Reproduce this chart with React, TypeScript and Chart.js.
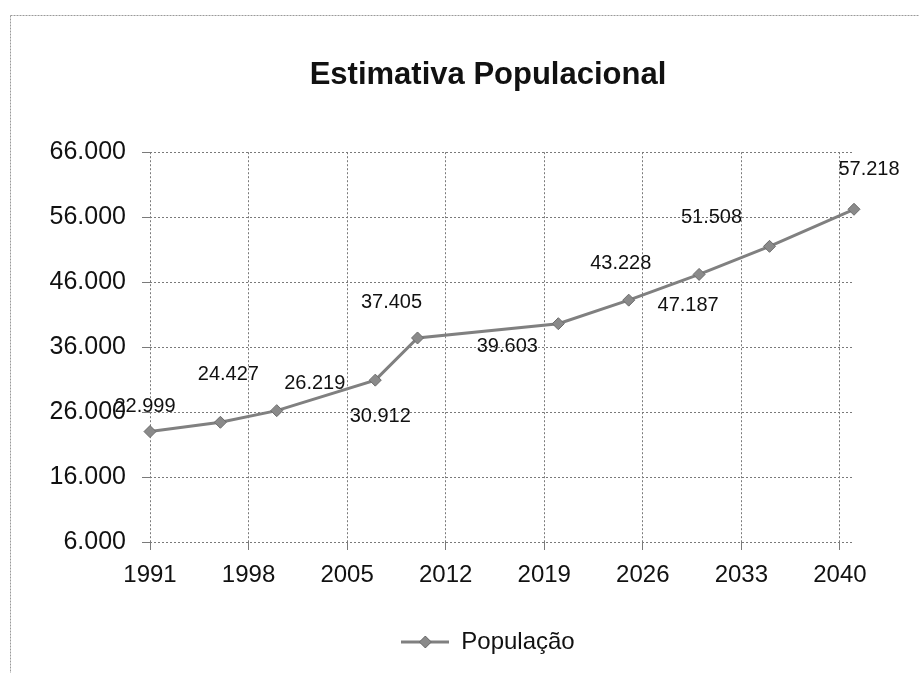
import React, { useEffect, useRef } from "react";
import { Chart, registerables } from "chart.js";

Chart.register(...registerables);

// ---- data ----
const chartTitle = "Estimativa Populacional";
const seriesName = "População";
const years = [1991, 1996, 2000, 2007, 2010, 2020, 2025, 2030, 2035, 2041];
const population = [22999, 24427, 26219, 30912, 37405, 39603, 43228, 47187, 51508, 57218];
const xTickYears = [1991, 1998, 2005, 2012, 2019, 2026, 2033, 2040];
const yTickValues = [6000, 16000, 26000, 36000, 46000, 56000, 66000];

// ---- label placement (style) ----
const labelOffsets: [number, number][] = [
  [-5, -25],
  [8, -48],
  [38, -27],
  [5, 36],
  [-26, -35],
  [-51, 23],
  [-8, -37],
  [-11, 31],
  [-58, -29],
  [15, -40],
];

const FONT = "'Liberation Sans', Arial, Helvetica, sans-serif";
const TEXT = "#111111";
const LINE = "#808080";
const GRID = "#7a7a7a";

function fmt(v: number): string {
  return Math.round(v)
    .toString()
    .replace(/\B(?=(\d{3})+(?!\d))/g, ".");
}

export default function App() {
  const ref = useRef<HTMLCanvasElement | null>(null);

  useEffect(() => {
    if (!ref.current) return;

    const marker = document.createElement("canvas");
    marker.width = 48;
    marker.height = 16;
    const mctx = marker.getContext("2d")!;
    mctx.strokeStyle = LINE;
    mctx.lineWidth = 3;
    mctx.beginPath();
    mctx.moveTo(0, 8);
    mctx.lineTo(48, 8);
    mctx.stroke();
    mctx.fillStyle = "#8a8a8a";
    mctx.strokeStyle = "#6c6c6c";
    mctx.lineWidth = 1;
    mctx.beginPath();
    mctx.moveTo(24, 2);
    mctx.lineTo(30, 8);
    mctx.lineTo(24, 14);
    mctx.lineTo(18, 8);
    mctx.closePath();
    mctx.fill();
    mctx.stroke();

    const framePlugin = {
      id: "frame",
      beforeDraw(chart: any) {
        const ctx = chart.ctx;
        ctx.save();
        ctx.fillStyle = "#ffffff";
        ctx.fillRect(0, 0, chart.width, chart.height);
        ctx.strokeStyle = "#9a9a9a";
        ctx.lineWidth = 1;
        ctx.setLineDash([2, 1]);
        ctx.beginPath();
        ctx.moveTo(10.5, 15.5);
        ctx.lineTo(chart.width, 15.5);
        ctx.moveTo(10.5, 15.5);
        ctx.lineTo(10.5, chart.height);
        ctx.stroke();
        ctx.restore();
      },
    };

    const labelPlugin = {
      id: "pointLabels",
      afterDatasetsDraw(chart: any) {
        const ctx = chart.ctx;
        const meta = chart.getDatasetMeta(0);
        ctx.save();
        ctx.font = `20px ${FONT}`;
        ctx.fillStyle = TEXT;
        ctx.textAlign = "center";
        ctx.textBaseline = "middle";
        meta.data.forEach((pt: any, i: number) => {
          const [dx, dy] = labelOffsets[i] || [0, -20];
          ctx.fillText(fmt(population[i]), pt.x + dx, pt.y + dy);
        });
        ctx.restore();
      },
    };

    const chart = new Chart(ref.current, {
      type: "line",
      data: {
        datasets: [
          {
            label: seriesName,
            data: years.map((y, i) => ({ x: y, y: population[i] })),
            borderColor: LINE,
            borderWidth: 3,
            backgroundColor: "#8a8a8a",
            pointStyle: "rectRot",
            pointRadius: 6,
            pointBackgroundColor: "#8a8a8a",
            pointBorderColor: "#6c6c6c",
            pointBorderWidth: 1,
            tension: 0,
            clip: false,
          },
        ],
      },
      options: {
        responsive: false,
        animation: false,
        devicePixelRatio: 1,
        layout: { padding: { left: 10, right: 10, top: 15, bottom: 9 } },
        scales: {
          x: {
            type: "linear",
            min: 1991,
            max: 2041,
            afterBuildTicks: (s: any) => {
              s.ticks = xTickYears.map((v) => ({ value: v }));
            },
            afterFit: (s: any) => {
              s.height = 78;
            },
            ticks: {
              callback: (v: any) => String(v),
              font: { family: FONT, size: 24 },
              color: TEXT,
              padding: 11,
              maxRotation: 0,
            },
            grid: { color: GRID, lineWidth: 1, tickLength: 8, drawTicks: true },
            border: { display: false, dash: [2, 2] },
          },
          y: {
            type: "linear",
            min: 6000,
            max: 66000,
            afterBuildTicks: (s: any) => {
              s.ticks = yTickValues.map((v) => ({ value: v }));
            },
            afterFit: (s: any) => {
              s.width = 140;
            },
            ticks: {
              callback: (v: any) => fmt(Number(v)),
              font: { family: FONT, size: 25 },
              color: TEXT,
              padding: 16,
            },
            grid: { color: GRID, lineWidth: 1, tickLength: 8, drawTicks: true },
            border: { display: false, dash: [2, 2] },
          },
          yRight: {
            type: "linear",
            position: "right",
            display: true,
            afterFit: (s: any) => {
              s.width = 112;
            },
            ticks: { display: false },
            grid: { display: false },
            border: { display: false },
          },
        },
        plugins: {
          title: {
            display: true,
            text: chartTitle,
            color: TEXT,
            font: { family: FONT, size: 31, weight: "bold" },
            padding: { top: 42, bottom: 58 },
          },
          legend: {
            display: true,
            position: "bottom",
            labels: {
              usePointStyle: true,
              pointStyle: marker as any,
              pointStyleWidth: 48,
              color: TEXT,
              font: { family: FONT, size: 24 },
              padding: 10,
            },
          },
          tooltip: { enabled: false },
        },
      },
      plugins: [framePlugin, labelPlugin],
    } as any);

    return () => chart.destroy();
  }, []);

  return (
    <div
      style={{
        position: "fixed",
        left: 0,
        top: 0,
        width: 919,
        height: 673,
        overflow: "hidden",
        background: "#ffffff",
      }}
    >
      <canvas ref={ref} width={976} height={673} style={{ display: "block" }} />
    </div>
  );
}
